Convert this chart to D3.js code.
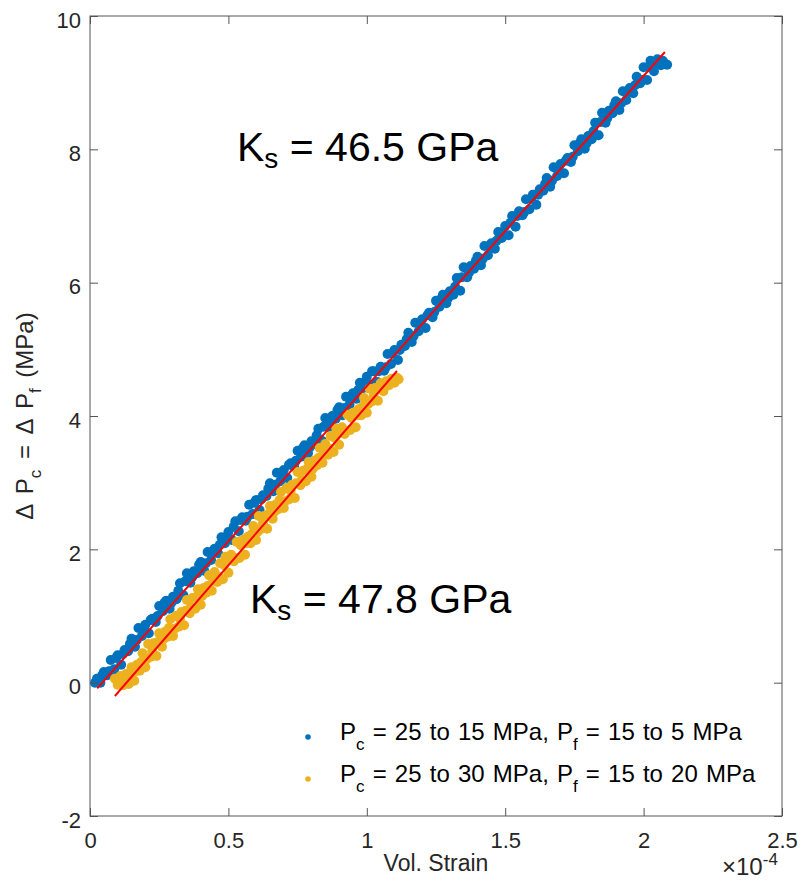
<!DOCTYPE html>
<html>
<head>
<meta charset="utf-8">
<script src="https://cdn.jsdelivr.net/npm/d3@7"></script>
<style>
  body { margin: 0; background: #fff; }
  text { font-family: "Liberation Sans", Arial, Helvetica, sans-serif; fill: #262626; }
</style>
</head>
<body>
<div id="chart"></div>
<script>
// strain values are in units of 1e-4, pressure in MPa
var blueData = [
  [0.018,0.00],[0.025,0.06],[0.05,0.16],[0.075,0.34],[0.1,0.41],[0.125,0.49],[0.15,0.66],[0.175,0.82],[0.2,0.87],[0.225,0.96],
  [0.25,1.15],[0.275,1.23],[0.3,1.29],[0.325,1.49],[0.35,1.64],[0.375,1.67],[0.4,1.81],[0.425,1.96],[0.45,2.01],[0.475,2.18],
  [0.5,2.26],[0.525,2.42],[0.55,2.48],[0.575,2.67],[0.6,2.74],[0.625,2.81],[0.65,2.99],[0.675,3.15],[0.7,3.19],[0.725,3.29],
  [0.75,3.48],[0.775,3.56],[0.8,3.62],[0.825,3.81],[0.85,3.97],[0.875,4.00],[0.9,4.13],[0.925,4.29],[0.95,4.34],[0.975,4.50],
  [1.0,4.59],[1.025,4.67],[1.05,4.74],[1.075,4.93],[1.1,4.99],[1.125,5.07],[1.15,5.25],[1.175,5.40],[1.2,5.45],[1.225,5.55],
  [1.25,5.73],[1.275,5.82],[1.3,5.87],[1.325,6.07],[1.35,6.23],[1.375,6.25],[1.4,6.39],[1.425,6.55],[1.45,6.59],[1.475,6.76],
  [1.5,6.85],[1.525,7.00],[1.55,7.07],[1.575,7.25],[1.6,7.32],[1.625,7.40],[1.65,7.57],[1.675,7.73],[1.7,7.78],[1.725,7.87],
  [1.75,8.06],[1.775,8.15],[1.8,8.20],[1.825,8.40],[1.85,8.55],[1.875,8.58],[1.9,8.72],[1.925,8.87],[1.95,8.92],[1.975,9.09],
  [2.0,9.23],[2.025,9.33],[2.05,9.35],[2.075,9.29],[2.085,9.27],
  [0.0375,0.00],[0.0625,0.11],[0.0875,0.20],[0.1125,0.27],[0.1375,0.47],[0.1625,0.54],[0.1875,0.70],[0.2125,0.74],[0.2375,0.91],[0.2625,1.07],
  [0.2875,1.11],[0.3125,1.25],[0.3375,1.31],[0.3625,1.50],[0.3875,1.64],[0.4125,1.68],[0.4375,1.84],[0.4625,1.94],[0.4875,2.09],[0.5125,2.14],
  [0.5375,2.27],[0.5625,2.43],[0.5875,2.53],[0.6125,2.59],[0.6375,2.80],[0.6625,2.87],[0.6875,3.02],[0.7125,3.07],[0.7375,3.24],[0.7625,3.39],
  [0.7875,3.44],[0.8125,3.58],[0.8375,3.63],[0.8625,3.83],[0.8875,3.96],[0.9125,4.01],[0.9375,4.17],[0.9625,4.26],[0.9875,4.42],[1.0125,4.47],
  [1.0375,4.51],[1.0625,4.68],[1.0875,4.78],[1.1125,4.84],[1.1375,5.05],[1.1625,5.11],[1.1875,5.27],[1.2125,5.32],[1.2375,5.48],[1.2625,5.64],
  [1.2875,5.69],[1.3125,5.82],[1.3375,5.88],[1.3625,6.08],[1.3875,6.21],[1.4125,6.26],[1.4375,6.41],[1.4625,6.51],[1.4875,6.67],[1.5125,6.71],
  [1.5375,6.84],[1.5625,7.01],[1.5875,7.10],[1.6125,7.17],[1.6375,7.38],[1.6625,7.44],[1.6875,7.60],[1.7125,7.64],[1.7375,7.81],[1.7625,7.97],
  [1.7875,8.01],[1.8125,8.15],[1.8375,8.21],[1.8625,8.40],[1.8875,8.54],[1.9125,8.59],[1.9375,8.74],[1.9625,8.84],[1.9875,8.99],[2.0125,9.04],
  [2.0375,9.17],[2.0625,9.26],
  [0.044,0.11],[0.069,0.17],[0.094,0.37],[0.119,0.43],[0.144,0.58],[0.169,0.64],[0.194,0.79],[0.219,0.94],[0.244,1.00],[0.269,1.20],
  [0.294,1.20],[0.319,1.38],[0.344,1.52],[0.369,1.58],[0.394,1.77],[0.419,1.79],[0.444,1.97],[0.469,2.07],[0.494,2.15],[0.519,2.34],
  [0.544,2.44],[0.569,2.49],[0.594,2.70],[0.619,2.75],[0.644,2.91],[0.669,2.97],[0.694,3.11],[0.719,3.27],[0.744,3.33],[0.769,3.52],
  [0.794,3.53],[0.819,3.71],[0.844,3.84],[0.869,3.91],[0.894,4.09],[0.919,4.12],[0.944,4.30],[0.969,4.39],[0.994,4.48],[1.019,4.67],
  [1.044,4.67],[1.069,4.73],[1.094,4.94],[1.119,4.99],[1.144,5.15],[1.169,5.20],[1.194,5.35],[1.219,5.51],[1.244,5.56],[1.269,5.76],
  [1.294,5.77],[1.319,5.94],[1.344,6.08],[1.369,6.15],[1.394,6.33],[1.419,6.36],[1.444,6.53],[1.469,6.63],[1.494,6.72],[1.519,6.90],
  [1.544,7.00],[1.569,7.06],[1.594,7.26],[1.619,7.32],[1.644,7.48],[1.669,7.53],[1.694,7.68],[1.719,7.83],[1.744,7.89],[1.769,8.09],
  [1.794,8.09],[1.819,8.27],[1.844,8.41],[1.869,8.47],[1.894,8.66],[1.919,8.69],[1.944,8.86],[1.969,8.96],[1.994,9.04],[2.019,9.23],
  [2.044,9.30],[2.069,9.33]
];

var yellowData = [
  [0.09,0.06],[0.11,0.10],[0.13,0.13],[0.15,0.23],[0.17,0.27],[0.19,0.44],[0.21,0.58],[0.23,0.59],[0.25,0.74],[0.27,0.76],
  [0.29,0.95],[0.31,1.00],[0.33,1.06],[0.35,1.24],[0.37,1.27],[0.39,1.40],[0.41,1.42],[0.43,1.61],[0.45,1.66],[0.47,1.79],
  [0.49,1.89],[0.51,1.92],[0.53,2.11],[0.55,2.14],[0.57,2.19],[0.59,2.35],[0.61,2.50],[0.63,2.50],[0.65,2.65],[0.67,2.67],
  [0.69,2.86],[0.71,2.92],[0.73,2.97],[0.75,3.16],[0.77,3.18],[0.79,3.31],[0.81,3.33],[0.83,3.52],[0.85,3.58],[0.87,3.70],
  [0.89,3.81],[0.91,3.83],[0.93,4.02],[0.95,4.05],[0.97,4.10],[0.99,4.27],[1.01,4.41],[1.03,4.42],[1.05,4.49],[1.07,4.52],
  [1.09,4.56],[1.11,4.57],
  [0.10,-0.03],[0.12,-0.04],[0.14,-0.02],[0.16,0.03],[0.18,0.18],[0.20,0.23],[0.22,0.39],[0.24,0.40],[0.26,0.54],[0.28,0.69],
  [0.30,0.70],[0.32,0.84],[0.34,0.86],[0.36,1.04],[0.38,1.11],[0.40,1.17],[0.42,1.35],[0.44,1.38],[0.46,1.51],[0.48,1.55],
  [0.50,1.65],[0.52,1.82],[0.54,1.87],[0.56,1.92],[0.58,2.09],[0.60,2.14],[0.62,2.31],[0.64,2.31],[0.66,2.46],[0.68,2.60],
  [0.70,2.62],[0.72,2.75],[0.74,2.77],[0.76,2.96],[0.78,3.02],[0.80,3.09],[0.82,3.26],[0.84,3.30],[0.86,3.42],[0.88,3.46],
  [0.90,3.57],[0.92,3.73],[0.94,3.79],[0.96,3.83],[0.98,4.01],[1.00,4.05],[1.02,4.22],[1.04,4.23],[1.06,4.37],[1.08,4.46],
  [1.10,4.50],[1.115,4.55],
  [0.105,0.02],[0.125,0.03],[0.145,0.08],[0.165,0.17],[0.185,0.31],[0.205,0.35],[0.225,0.48],[0.245,0.61],[0.265,0.65],[0.285,0.82],
  [0.305,0.81],[0.325,0.96],[0.345,1.08],[0.365,1.13],[0.385,1.29],[0.405,1.30],[0.425,1.45],[0.445,1.53],[0.465,1.59],[0.485,1.76],
  [0.505,1.84],[0.525,1.87],[0.545,2.06],[0.565,2.09],[0.585,2.23],[0.605,2.26],[0.625,2.39],[0.645,2.53],[0.665,2.56],[0.685,2.74],
  [0.705,2.72],[0.725,2.88],[0.745,2.99],[0.765,3.04],[0.785,3.21],[0.805,3.21],[0.825,3.37],[0.845,3.44],[0.865,3.51],[0.885,3.67],
  [0.905,3.75],[0.925,3.78],[0.945,3.97],[0.965,4.01],[0.985,4.14],[1.005,4.18],[1.025,4.30],[1.045,4.44],[1.065,4.44],[1.085,4.51],
  [1.105,4.53]
];

// linear fits (end points)
var blueFitStrain = [0.026, 2.077], blueFitPress = [-0.085, 9.46];
var yellowFitStrain = [0.090, 1.109], yellowFitPress = [-0.20, 4.675];

var xTicks = [0, 0.5, 1, 1.5, 2, 2.5];
var yTicks = [-2, 0, 2, 4, 6, 8, 10];

var blueColor = "#0072BD", yellowColor = "#EDB120";

// set the dimensions and margins of the graph
var margin = {top: 16, right: 19, bottom: 74, left: 90},
    width = 801 - margin.left - margin.right,
    height = 890 - margin.top - margin.bottom;

var svg = d3.select("#chart")
  .append("svg")
    .attr("width", 801)
    .attr("height", 890)
  .append("g")
    .attr("transform", "translate(" + margin.left + "," + margin.top + ")");

var x = d3.scaleLinear().domain([0, 2.5]).range([0, width]);
var y = d3.scaleLinear().domain([-2, 10]).range([height, 0]);

// scatter
svg.selectAll("circle.blue")
  .data(blueData)
  .enter()
  .append("circle")
    .attr("class", "blue")
    .attr("cx", function(d) { return x(d[0]); })
    .attr("cy", function(d) { return y(d[1]); })
    .attr("r", 5)
    .style("fill", blueColor);

svg.selectAll("circle.yellow")
  .data(yellowData)
  .enter()
  .append("circle")
    .attr("class", "yellow")
    .attr("cx", function(d) { return x(d[0]); })
    .attr("cy", function(d) { return y(d[1]); })
    .attr("r", 5)
    .style("fill", yellowColor);

// fit lines
[[blueFitStrain, blueFitPress], [yellowFitStrain, yellowFitPress]].forEach(function(f) {
  svg.append("line")
    .attr("x1", x(f[0][0])).attr("y1", y(f[1][0]))
    .attr("x2", x(f[0][1])).attr("y2", y(f[1][1]))
    .attr("stroke", "#FF0000")
    .attr("stroke-width", 2);
});

// axes (ticks inward, box on)
var fmt = function(d) { return String(d); };
var xAx = svg.append("g")
  .attr("transform", "translate(0," + height + ")")
  .call(d3.axisBottom(x).tickValues(xTicks).tickFormat(fmt).tickSizeInner(-8).tickSizeOuter(0).tickPadding(16));
var yAx = svg.append("g")
  .call(d3.axisLeft(y).tickValues(yTicks).tickFormat(fmt).tickSizeInner(-8).tickSizeOuter(0).tickPadding(9));
var tAx = svg.append("g")
  .call(d3.axisTop(x).tickValues(xTicks).tickFormat("").tickSizeInner(-8).tickSizeOuter(0));
var rAx = svg.append("g")
  .attr("transform", "translate(" + width + ",0)")
  .call(d3.axisRight(y).tickValues(yTicks).tickFormat("").tickSizeInner(-8).tickSizeOuter(0));

[xAx, yAx, tAx, rAx].forEach(function(a) {
  a.select(".domain").remove();
  a.selectAll("line").attr("stroke", "#555");
  a.selectAll("text").style("font-size", "22px").style("fill", "#262626")
    .style("font-family", "'Liberation Sans', Arial, sans-serif");
});
yAx.selectAll("text").attr("dy", "0.5em");

svg.append("rect")
  .attr("width", width).attr("height", height)
  .attr("fill", "none").attr("stroke", "#555").attr("stroke-width", 1);

// axis labels
svg.append("text")
  .attr("x", width / 2).attr("y", height + 55)
  .attr("text-anchor", "middle")
  .style("font-size", "23px")
  .text("Vol. Strain");

var xm = svg.append("text")
  .attr("x", width - 60).attr("y", height + 59)
  .style("font-size", "24px");
xm.append("tspan").text("\u00d710");
xm.append("tspan").attr("dy", -10).style("font-size", "17px").text("-4");

var yl = svg.append("text")
  .attr("transform", "translate(-57," + (height / 2) + ") rotate(-90)")
  .attr("text-anchor", "middle")
  .style("font-size", "24px")
  .style("word-spacing", "4px");
yl.append("tspan").text("\u0394 P");
yl.append("tspan").attr("dy", 8).style("font-size", "17px").text("c");
yl.append("tspan").attr("dy", -8).text(" = \u0394 P");
yl.append("tspan").attr("dy", 8).style("font-size", "17px").text("f");
yl.append("tspan").attr("dy", -8).text(" (MPa)");

// annotations
function ksLabel(px, py, val) {
  var t = svg.append("text")
    .attr("x", px).attr("y", py)
    .style("font-size", "41px").style("fill", "#000");
  t.append("tspan").text("K");
  t.append("tspan").attr("dy", 7).style("font-size", "28px").text("s");
  t.append("tspan").attr("dy", -7).text(" = " + val + " GPa");
}
ksLabel(147, 145, "46.5");
ksLabel(160, 597, "47.8");

// legend
var legendItems = [
  {color: blueColor, a: "25 to 15", b: "15 to 5"},
  {color: yellowColor, a: "25 to 30", b: "15 to 20"}
];
legendItems.forEach(function(d, i) {
  var ly = 740 + i * 42 - margin.top;
  svg.append("circle")
    .attr("cx", 218).attr("cy", ly - 3)
    .attr("r", 2.8)
    .style("fill", d.color);
  var t = svg.append("text")
    .attr("x", 250).attr("y", ly)
    .style("font-size", "24px").style("word-spacing", "1.5px").style("fill", "#000");
  t.append("tspan").text("P");
  t.append("tspan").attr("dy", 10).style("font-size", "17px").text("c");
  t.append("tspan").attr("dy", -10).text(" = " + d.a + " MPa, P");
  t.append("tspan").attr("dy", 10).style("font-size", "17px").text("f");
  t.append("tspan").attr("dy", -10).text(" = " + d.b + " MPa");
});
</script>
</body>
</html>
